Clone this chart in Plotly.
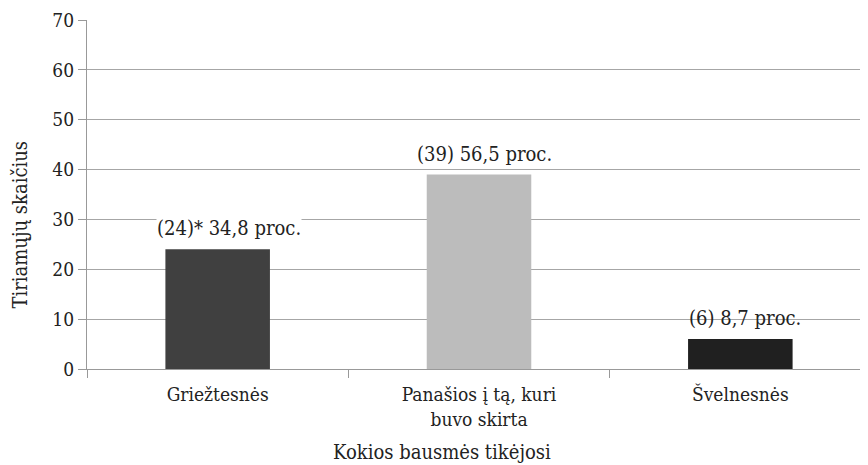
import plotly.graph_objects as go

categories = ["Griežtesnės", "Panašios į tą, kuri<br>buvo skirta", "Švelnesnės"]
counts = [24, 39, 6]
percents = ["34,8", "56,5", "8,7"]
label_prefix = ["(24)* ", "(39) ", "(6) "]
bar_colors = ["#404040", "#bcbcbc", "#202020"]
y_ticks = [0, 10, 20, 30, 40, 50, 60, 70]
x_title = "Kokios bausmės tikėjosi"
y_title = "Tiriamųjų skaičius"

FONT = "DejaVu Serif Condensed, DejaVu Serif"
FS = 19
TXT = "#222"

fig = go.Figure()
fig.add_trace(go.Bar(
    x=categories, y=counts,
    marker=dict(color=bar_colors, line=dict(width=0)),
    width=0.4,
    hoverinfo="skip",
))

label_bg = ["white", "white", "rgba(0,0,0,0)"]
label_dx = [11, 5, 5]
for i, (c, v) in enumerate(zip(categories, counts)):
    fig.add_annotation(
        x=c, y=v, xref="x", yref="y",
        text=f"{label_prefix[i]}{percents[i]} proc.",
        showarrow=False, yanchor="bottom", yshift=8, xshift=label_dx[i],
        font=dict(family=FONT, size=20, color=TXT),
        bgcolor=label_bg[i], borderpad=0,
    )

# axis titles (placed like in the reference: x title left of centre)
fig.add_annotation(
    x=0.4528, y=-0.238, xref="paper", yref="paper",
    text=x_title, showarrow=False, xanchor="center", yanchor="middle",
    font=dict(family=FONT, size=20, color=TXT),
)
fig.add_annotation(
    x=-0.0860, y=0.4126, xref="paper", yref="paper",
    text=y_title, showarrow=False, xanchor="center", yanchor="middle",
    textangle=-90,
    font=dict(family=FONT, size=20, color=TXT),
)

fig.update_layout(
    width=868, height=465,
    margin=dict(l=79, r=5, t=12, b=104),
    plot_bgcolor="white", paper_bgcolor="white",
    showlegend=False,
    font=dict(family=FONT, size=FS, color=TXT),
)
fig.update_xaxes(
    type="category", tickson="boundaries", ticks="outside", ticklen=8,
    tickcolor="#999", showline=True, linecolor="#999", linewidth=1.2,
    showgrid=False, automargin=False, ticklabelstandoff=8,
    tickfont=dict(family=FONT, size=FS, color=TXT),
)
fig.update_yaxes(
    range=[0, 70], tickvals=y_ticks, ticks="outside", ticklen=8,
    tickcolor="#999", showline=True, linecolor="#999", linewidth=1.2,
    showgrid=True, gridcolor="#a6a6a6", gridwidth=1.2, zeroline=False,
    automargin=False,
    tickfont=dict(family=FONT, size=FS, color=TXT),
)

fig.write_html("out.html")
